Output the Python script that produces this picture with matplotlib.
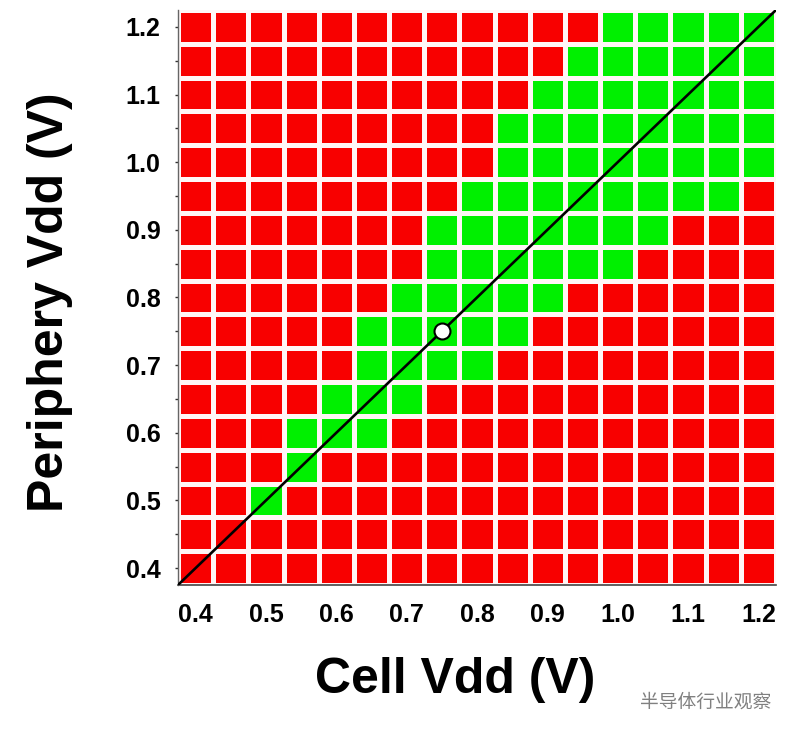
import numpy as np
import matplotlib
matplotlib.use("Agg")
import matplotlib.pyplot as plt
from matplotlib.colors import ListedColormap

# ---- data ----
cell_vdd = [0.40, 0.45, 0.50, 0.55, 0.60, 0.65, 0.70, 0.75, 0.80,
            0.85, 0.90, 0.95, 1.00, 1.05, 1.10, 1.15, 1.20]
periph_vdd = [0.40, 0.45, 0.50, 0.55, 0.60, 0.65, 0.70, 0.75, 0.80,
              0.85, 0.90, 0.95, 1.00, 1.05, 1.10, 1.15, 1.20]
# passing cell-Vdd window for each periphery Vdd (None = all fail)
pass_lo = [None, None, 0.50, 0.55, 0.55, 0.60, 0.65, 0.65, 0.70,
           0.75, 0.75, 0.80, 0.85, 0.85, 0.90, 0.95, 1.00]
pass_hi = [None, None, 0.50, 0.55, 0.65, 0.70, 0.80, 0.85, 0.90,
           1.00, 1.05, 1.15, 1.20, 1.20, 1.20, 1.20, 1.20]
nominal = (0.75, 0.75)
tick_vals = [0.4, 0.5, 0.6, 0.7, 0.8, 0.9, 1.0, 1.1, 1.2]
tick_labels = ["0.4", "0.5", "0.6", "0.7", "0.8", "0.9", "1.0", "1.1", "1.2"]

# ---- build pass/fail grid ----
grid = np.zeros((len(periph_vdd), len(cell_vdd)))
for r, (lo, hi) in enumerate(zip(pass_lo, pass_hi)):
    if lo is None:
        continue
    for c, v in enumerate(cell_vdd):
        if round(lo, 3) <= round(v, 3) <= round(hi, 3):
            grid[r, c] = 1

step = 0.05
xe = np.r_[np.array(cell_vdd) - step / 2, cell_vdd[-1] + step / 2]
ye = np.r_[np.array(periph_vdd) - step / 2, periph_vdd[-1] + step / 2]

plt.rcParams['font.family'] = ['Liberation Sans', 'DejaVu Sans']

fig = plt.figure(figsize=(7.97, 7.41), dpi=100)
ax = fig.add_axes([178 / 797, 156 / 741, 598 / 797, 575 / 741])

cmap = ListedColormap(['#F80000', '#00F000'])
ax.pcolormesh(xe, ye, grid, cmap=cmap, vmin=0, vmax=1,
              edgecolors='#FFF6F6', linewidth=2.4)

ax.plot([xe[0], xe[-1]], [ye[0], ye[-1]], color='black', lw=1.9, zorder=3)
ax.plot([nominal[0]], [nominal[1]], 'o', ms=11.5, mfc='white',
        mec='black', mew=1.5, zorder=4)

ax.set_xlim(xe[0], xe[-1])
ax.set_ylim(ye[0], ye[-1])

ax.set_xticks(tick_vals)
ax.set_xticklabels(tick_labels, fontsize=18, fontweight='bold')
ax.set_yticks(tick_vals)
ax.set_yticklabels(tick_labels, fontsize=18, fontweight='bold')
ax.set_yticks(periph_vdd, minor=True)
ax.tick_params(axis='x', length=0, pad=13)
ax.tick_params(axis='y', which='both', length=2.5, width=1, pad=10,
               color='#333333')

for s in ['top', 'right']:
    ax.spines[s].set_visible(False)
ax.spines['left'].set_color('#666666')
ax.spines['bottom'].set_color('#444444')
ax.spines['left'].set_linewidth(1)
ax.spines['bottom'].set_linewidth(1.2)

fig.text(455 / 797, 1 - 680 / 741, "Cell Vdd (V)", fontsize=36,
         fontweight='bold', ha='center', va='center')
fig.text(50 / 797, 1 - 302 / 741, "Periphery Vdd (V)", fontsize=36,
         fontweight='bold', ha='center', va='center', rotation=90)

fig.text(706 / 797, 1 - 702 / 741, "半导体行业观察", fontsize=13.5,
         color='#808080', ha='center', va='center',
         family=['Noto Sans CJK SC', 'DejaVu Sans'])

fig.savefig("out.png", dpi=100)
